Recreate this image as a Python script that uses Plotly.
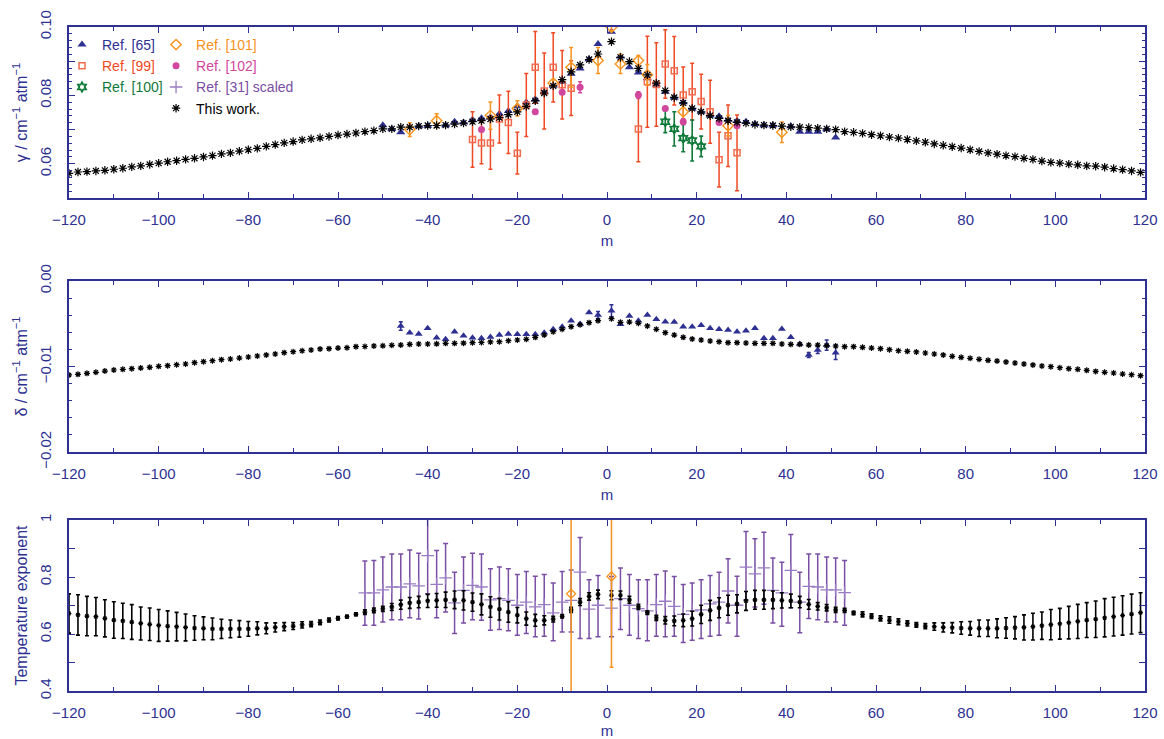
import plotly.graph_objects as go

# ---------------------------------------------------------------- data
# rotational index m: P branch (even, negative) and R branch (odd, positive)
m_p = list(range(-120, 0, 2))
m_r = list(range(1, 121, 2))
m_tw = m_p + m_r

# This work: broadening coefficient gamma / cm-1 atm-1
gamma_tw = [0.0572, 0.0576, 0.0577, 0.0579, 0.0581, 0.0584, 0.0587, 0.0591, 0.0594, 0.0598,
            0.0602, 0.0606, 0.0609, 0.0613, 0.0616, 0.0620, 0.0624, 0.0629, 0.0632, 0.0637,
            0.0641, 0.0645, 0.0651, 0.0656, 0.0661, 0.0665, 0.0670, 0.0673, 0.0676, 0.0680,
            0.0684, 0.0687, 0.0690, 0.0694, 0.0697, 0.0702, 0.0702, 0.0707, 0.0707, 0.0710,
            0.0712, 0.0712, 0.0713, 0.0716, 0.0719, 0.0723, 0.0726, 0.0731, 0.0735, 0.0744,
            0.0752, 0.0768, 0.0784, 0.0807, 0.0828, 0.0846, 0.0869, 0.0889, 0.0905, 0.0921,
            0.0957, 0.0911, 0.0899, 0.0879, 0.0860, 0.0836, 0.0814, 0.0794, 0.0778, 0.0762,
            0.0752, 0.0741, 0.0733, 0.0726, 0.0721, 0.0719, 0.0715, 0.0713, 0.0712, 0.0710,
            0.0708, 0.0707, 0.0706, 0.0704, 0.0702, 0.0700, 0.0694, 0.0692, 0.0689, 0.0685,
            0.0682, 0.0678, 0.0675, 0.0671, 0.0667, 0.0663, 0.0658, 0.0654, 0.0650, 0.0646,
            0.0641, 0.0636, 0.0632, 0.0628, 0.0624, 0.0621, 0.0616, 0.0613, 0.0608, 0.0604,
            0.0602, 0.0599, 0.0597, 0.0594, 0.0593, 0.0590, 0.0586, 0.0583, 0.0579, 0.0575]

# This work: shift coefficient delta / cm-1 atm-1
delta_tw = [-0.01099, -0.01092, -0.01080, -0.01068, -0.01053, -0.01041, -0.01033, -0.01025,
            -0.01018, -0.01010, -0.00998, -0.00990, -0.00979, -0.00971, -0.00955, -0.00943,
            -0.00932, -0.00920, -0.00912, -0.00901, -0.00889, -0.00877, -0.00865, -0.00854,
            -0.00838, -0.00827, -0.00815, -0.00807, -0.00795, -0.00791, -0.00784, -0.00780,
            -0.00768, -0.00766, -0.00760, -0.00758, -0.00752, -0.00749, -0.00741, -0.00737,
            -0.00737, -0.00735, -0.00729, -0.00729, -0.00727, -0.00721, -0.00719, -0.00713,
            -0.00710, -0.00698, -0.00690, -0.00682, -0.00659, -0.00632, -0.00593, -0.00565,
            -0.00534, -0.00511, -0.00487, -0.00464,
            -0.00441, -0.00483, -0.00480, -0.00495, -0.00526, -0.00565, -0.00604, -0.00632,
            -0.00659, -0.00678, -0.00690, -0.00702, -0.00710, -0.00721, -0.00721, -0.00725,
            -0.00729, -0.00729, -0.00729, -0.00737, -0.00741, -0.00741, -0.00749, -0.00749,
            -0.00756, -0.00760, -0.00768, -0.00768, -0.00776, -0.00784, -0.00791, -0.00803,
            -0.00815, -0.00823, -0.00830, -0.00842, -0.00854, -0.00865, -0.00881, -0.00893,
            -0.00904, -0.00916, -0.00928, -0.00936, -0.00947, -0.00959, -0.00971, -0.00982,
            -0.00994, -0.01002, -0.01014, -0.01025, -0.01033, -0.01045, -0.01057, -0.01068,
            -0.01076, -0.01088, -0.01096, -0.01107]

# This work: temperature exponent and its uncertainty
texp_tw = [0.672, 0.667, 0.663, 0.661, 0.655, 0.649, 0.646, 0.642, 0.637, 0.634,
           0.630, 0.628, 0.626, 0.623, 0.621, 0.620, 0.618, 0.618, 0.618, 0.618,
           0.618, 0.620, 0.620, 0.623, 0.626, 0.628, 0.632, 0.635, 0.641, 0.649,
           0.655, 0.661, 0.669, 0.677, 0.683, 0.688, 0.695, 0.703, 0.709, 0.712,
           0.716, 0.718, 0.720, 0.720, 0.718, 0.712, 0.704, 0.695, 0.687, 0.677,
           0.666, 0.654, 0.648, 0.648, 0.652, 0.662, 0.685, 0.712, 0.732, 0.739,
           0.736, 0.736, 0.720, 0.695, 0.675, 0.657, 0.648, 0.646, 0.648, 0.654,
           0.669, 0.683, 0.692, 0.701, 0.706, 0.716, 0.720, 0.720, 0.720, 0.718,
           0.716, 0.712, 0.704, 0.697, 0.692, 0.685, 0.683, 0.674, 0.669, 0.663,
           0.655, 0.649, 0.643, 0.637, 0.632, 0.628, 0.626, 0.623, 0.622, 0.621,
           0.620, 0.620, 0.620, 0.620, 0.621, 0.622, 0.623, 0.626, 0.629, 0.633,
           0.636, 0.640, 0.644, 0.649, 0.652, 0.657, 0.661, 0.665, 0.670, 0.675]
texp_tw_err = [0.069, 0.071, 0.069, 0.067, 0.065, 0.064, 0.062, 0.061, 0.058, 0.057,
               0.056, 0.053, 0.050, 0.047, 0.043, 0.040, 0.038, 0.034, 0.031, 0.029,
               0.026, 0.023, 0.019, 0.016, 0.014, 0.012, 0.011, 0.009, 0.008, 0.007,
               0.006, 0.005, 0.005, 0.008, 0.008, 0.009, 0.012, 0.016, 0.019, 0.020,
               0.023, 0.024, 0.027, 0.031, 0.034, 0.032, 0.037, 0.036, 0.038, 0.036,
               0.027, 0.023, 0.021, 0.016, 0.010, 0.006, 0.009, 0.012, 0.013, 0.015,
               0.016, 0.015, 0.012, 0.009, 0.006, 0.009, 0.013, 0.017, 0.022, 0.026,
               0.032, 0.035, 0.035, 0.035, 0.032, 0.033, 0.033, 0.033, 0.031, 0.027,
               0.024, 0.020, 0.017, 0.013, 0.011, 0.009, 0.007, 0.006, 0.009, 0.008,
               0.009, 0.011, 0.010, 0.009, 0.008, 0.009, 0.013, 0.016, 0.018, 0.022,
               0.024, 0.029, 0.029, 0.033, 0.036, 0.039, 0.044, 0.047, 0.048, 0.053,
               0.054, 0.057, 0.060, 0.061, 0.064, 0.067, 0.068, 0.069, 0.070, 0.070]

# Ref. [65]: gamma and delta
m_65g = [-50, -48, -46, -42, -40, -36, -34, -32, -30, -28, -26, -24, -22, -20, -18, -16,
         -14, -12, -10, -8, -6, -4, -2, 1, 3, 5, 7, 9, 11, 13, 15, 17, 19, 21, 23, 25, 27,
         29, 31, 33, 35, 37, 41, 43, 45, 47, 49, 51]
gamma_65 = [0.0713, 0.0702, 0.0692, 0.0710, 0.0711, 0.0713, 0.0723, 0.0721, 0.0729, 0.0733,
            0.0736, 0.0746, 0.0754, 0.0768, 0.0780, 0.0789, 0.0809, 0.0828, 0.0840, 0.0863,
            0.0879, 0.0906, 0.0950, 0.0986, 0.0914, 0.0882, 0.0867, 0.0850, 0.0832, 0.0811,
            0.0794, 0.0780, 0.0762, 0.0752, 0.0741, 0.0739, 0.0729, 0.0726, 0.0723, 0.0716,
            0.0713, 0.0713, 0.0710, 0.0694, 0.0694, 0.0694, 0.0701, 0.0677]
m_65d = [-46, -44, -42, -40, -38, -36, -34, -32, -30, -28, -26, -24, -22, -20, -18, -16,
         -14, -12, -10, -8, -6, -4, -2, 1, 3, 5, 7, 9, 11, 13, 15, 17, 19, 21, 23, 25, 27,
         29, 31, 33, 35, 37, 39, 41, 43, 45, 47, 49, 51]
delta_65 = [-0.00526, -0.00604, -0.00620, -0.00554, -0.00663, -0.00682, -0.00593, -0.00639,
            -0.00663, -0.00671, -0.00655, -0.00632, -0.00620, -0.00624, -0.00624, -0.00624,
            -0.00604, -0.00565, -0.00534, -0.00464, -0.00503, -0.00370, -0.00398, -0.00347,
            -0.00507, -0.00409, -0.00464, -0.00398, -0.00448, -0.00476, -0.00480, -0.00534,
            -0.00534, -0.00518, -0.00554, -0.00565, -0.00573, -0.00593, -0.00581, -0.00554,
            -0.00671, -0.00671, -0.00561, -0.00659, -0.00737, -0.00865, -0.00807, -0.00749,
            -0.00838]
delta_65_err = [0.0005, 0, 0, 0, 0, 0, 0, 0, 0, 0, 0, 0, 0, 0, 0, 0,
                0, 0, 0, 0, 0, 0, 0.0004, 0.0007, 0, 0, 0, 0, 0, 0, 0, 0,
                0, 0, 0, 0, 0, 0, 0, 0, 0, 0, 0, 0, 0, 0.0003, 0.0004, 0.0006, 0.0008]

# Ref. [99]: gamma with uncertainty
m_99 = [-30, -28, -26, -24, -22, -20, -18, -16, -14, -12, -10, -8,
        7, 9, 11, 13, 15, 17, 19, 21, 23, 25, 27, 29]
gamma_99 = [0.0671, 0.0661, 0.0661, 0.0731, 0.0721, 0.0631, 0.0772, 0.0882, 0.0813, 0.0882,
            0.0831, 0.0821, 0.0702, 0.0840, 0.0832, 0.0892, 0.0872, 0.0801, 0.0811, 0.0782,
            0.0752, 0.0612, 0.0682, 0.0632]
gamma_99_err = [0.0081, 0.0061, 0.0077, 0.0070, 0.0091, 0.0061, 0.0092, 0.0105, 0.0111, 0.0101,
                0.0100, 0.0080, 0.0096, 0.0133, 0.0122, 0.0100, 0.0100, 0.0082, 0.0083, 0.0080,
                0.0092, 0.0080, 0.0090, 0.0111]

# Ref. [100]
m_100 = [13, 15, 17, 19, 21]
gamma_100 = [0.0723, 0.0702, 0.0675, 0.0668, 0.0651]
gamma_100_err = [0.0032, 0.0050, 0.0040, 0.0060, 0.0030]

# Ref. [101]: gamma, plus two temperature exponents
m_101 = [-44, -38, -26, -20, -12, -8, -2, 1, 3, 7, 9, 17, 27, 39]
gamma_101 = [0.0700, 0.0726, 0.0741, 0.0762, 0.0836, 0.0882, 0.0902, 0.0999, 0.0892, 0.0902,
             0.0860, 0.0752, 0.0711, 0.0692]
gamma_101_err = [0.0020, 0.0020, 0.0040, 0.0022, 0.0010, 0.0058, 0.0038, 0.0010, 0.0028, 0.0015,
                 0.0030, 0.0020, 0.0030, 0.0030]
m_101t = [-8, 1]
texp_101 = [0.741, 0.802]
texp_101_err = [0.400, 0.319]

# Ref. [102]
m_102 = [-28, -16, -10, -6, 7, 13, 17, 25, 29]
gamma_102 = [0.0700, 0.0752, 0.0809, 0.0824, 0.0801, 0.0762, 0.0723, 0.0721, 0.0711]
gamma_102_err = [0, 0, 0, 0.0016, 0.0010, 0, 0.0008, 0, 0]

# Ref. [31] scaled: temperature exponent with upper / lower bounds
m_31 = [-54, -52, -50, -48, -46, -44, -42, -40, -38, -36, -34, -32, -30, -28, -26, -24,
        -22, -20, -18, -16, -14, -12, -10, -8, -6, -4, -2, 1, 3, 5, 7, 9, 11, 13, 15, 17,
        19, 21, 23, 25, 27, 29, 31, 33, 35, 37, 39, 41, 43, 45, 47, 49, 51, 53]
texp_31 = [0.744, 0.744, 0.755, 0.765, 0.765, 0.776, 0.769, 0.875, 0.774, 0.797, 0.709, 0.753,
           0.771, 0.765, 0.720, 0.724, 0.718, 0.701, 0.712, 0.695, 0.703, 0.674, 0.712, 0.718,
           0.817, 0.687, 0.701, 0.691, 0.724, 0.701, 0.689, 0.681, 0.703, 0.715, 0.697, 0.669,
           0.681, 0.685, 0.706, 0.712, 0.751, 0.701, 0.835, 0.811, 0.832, 0.753, 0.744, 0.823,
           0.712, 0.767, 0.765, 0.755, 0.755, 0.745]
texp_31_hi = [0.856, 0.858, 0.870, 0.881, 0.881, 0.895, 0.883, 1.010, 0.893, 0.918, 0.817, 0.870,
              0.883, 0.881, 0.829, 0.835, 0.829, 0.809, 0.819, 0.803, 0.809, 0.779, 0.819, 0.825,
              0.939, 0.790, 0.805, 0.802, 0.832, 0.809, 0.790, 0.790, 0.809, 0.821, 0.802, 0.774,
              0.779, 0.790, 0.805, 0.817, 0.864, 0.803, 0.960, 0.934, 0.957, 0.867, 0.852, 0.949,
              0.817, 0.881, 0.881, 0.870, 0.867, 0.858]
texp_31_lo = [0.631, 0.631, 0.642, 0.650, 0.650, 0.657, 0.653, 0.741, 0.657, 0.677, 0.602, 0.639,
              0.650, 0.648, 0.613, 0.616, 0.611, 0.596, 0.602, 0.590, 0.592, 0.576, 0.607, 0.607,
              0.584, 0.584, 0.590, 0.590, 0.616, 0.596, 0.584, 0.576, 0.592, 0.590, 0.592, 0.570,
              0.578, 0.584, 0.592, 0.596, 0.639, 0.592, 0.720, 0.695, 0.704, 0.639, 0.627, 0.692,
              0.604, 0.654, 0.650, 0.642, 0.642, 0.631]

# ---------------------------------------------------------------- style
NAVY = '#2e3192'
C65 = '#2e3192'
C99 = '#ef4a23'
C100 = '#0f7a3a'
C101 = '#f7931e'
C102 = '#d1479d'
C31 = '#7a4ea3'
CTW = '#000000'
FONT = 'Liberation Sans'


def label(text, color):
    return f'<span style="color:{color}">{text}</span>'


def ebar(vals, color, width=2, thickness=1.5, minus=None):
    d = dict(type='data', array=vals, visible=True, color=color,
             thickness=thickness, width=width)
    if minus is not None:
        d['arrayminus'] = minus
        d['symmetric'] = False
    return d


fig = go.Figure()

# ---- panel 1: gamma
fig.add_trace(go.Scatter(
    x=m_65g, y=gamma_65, mode='markers', name=label('Ref. [65]', C65),
    marker=dict(symbol='triangle-up', size=8, color=C65),
    xaxis='x', yaxis='y', legend='legend'))
fig.add_trace(go.Scatter(
    x=m_99, y=gamma_99, mode='markers', name=label('Ref. [99]', C99),
    marker=dict(symbol='square-open', size=6, color='#f26c4f', line=dict(width=1.5)),
    error_y=ebar(gamma_99_err, C99, width=2, thickness=1.5),
    xaxis='x', yaxis='y', legend='legend'))
fig.add_trace(go.Scatter(
    x=m_100, y=gamma_100, mode='markers', name=label('Ref. [100]', C100),
    marker=dict(symbol='hexagram-open', size=7, color=C100, line=dict(width=1.8)),
    error_y=ebar(gamma_100_err, C100, width=2, thickness=1.6),
    xaxis='x', yaxis='y', legend='legend'))
fig.add_trace(go.Scatter(
    x=m_101, y=gamma_101, mode='markers', name=label('Ref. [101]', C101),
    marker=dict(symbol='diamond-open', size=8, color=C101, line=dict(width=1.4)),
    error_y=ebar(gamma_101_err, C101, width=2, thickness=1.5),
    xaxis='x', yaxis='y', legend='legend2'))
fig.add_trace(go.Scatter(
    x=m_102, y=gamma_102, mode='markers', name=label('Ref. [102]', C102),
    marker=dict(symbol='circle', size=7, color=C102),
    error_y=ebar(gamma_102_err, C102, width=2, thickness=1.5),
    xaxis='x', yaxis='y', legend='legend2'))

# ---- panel 3: temperature exponent (Ref. [31] carries the legend entry)
fig.add_trace(go.Scatter(
    x=m_31, y=texp_31, mode='markers', name=label('Ref. [31] scaled', C31),
    marker=dict(symbol='cross-thin', size=9, color='#9a7cc4', line=dict(width=1.3, color='#9a7cc4')),
    error_y=ebar([h - c for h, c in zip(texp_31_hi, texp_31)], C31, width=2.5, thickness=1.5,
                 minus=[c - l for c, l in zip(texp_31, texp_31_lo)]),
    xaxis='x3', yaxis='y3', legend='legend2'))

fig.add_trace(go.Scatter(
    x=m_tw, y=gamma_tw, mode='markers', name=label('This work.', CTW),
    marker=dict(symbol='asterisk-open', size=7, color=CTW, line=dict(width=1.2, color=CTW)),
    xaxis='x', yaxis='y', legend='legend2'))

# ---- panel 2: delta
fig.add_trace(go.Scatter(
    x=m_65d, y=delta_65, mode='markers', showlegend=False,
    marker=dict(symbol='triangle-up', size=7, color=C65),
    error_y=ebar(delta_65_err, C65, width=2, thickness=1.5),
    xaxis='x2', yaxis='y2'))
fig.add_trace(go.Scatter(
    x=m_tw, y=delta_tw, mode='markers', showlegend=False,
    marker=dict(symbol='asterisk-open', size=5, color=CTW, line=dict(width=1.2, color=CTW)),
    xaxis='x2', yaxis='y2'))

# ---- panel 3: remaining series
fig.add_trace(go.Scatter(
    x=m_tw, y=texp_tw, mode='markers', showlegend=False,
    marker=dict(symbol='asterisk-open', size=4, color=CTW, line=dict(width=1.2, color=CTW)),
    error_y=ebar(texp_tw_err, CTW, width=2, thickness=1.6),
    xaxis='x3', yaxis='y3'))
fig.add_trace(go.Scatter(
    x=m_101t, y=texp_101, mode='markers', showlegend=False,
    marker=dict(symbol='diamond-open', size=7, color=C101, line=dict(width=1.3)),
    error_y=ebar(texp_101_err, C101, width=2, thickness=1.5),
    xaxis='x3', yaxis='y3'))

# ---------------------------------------------------------------- axes
tickfont = dict(family=FONT, size=15, color=NAVY)
titlefont = dict(family=FONT, size=16, color=NAVY)
common = dict(showline=True, linecolor=NAVY, linewidth=1.6, mirror='ticks',
              ticks='inside', ticklen=6, tickwidth=1.4, tickcolor=NAVY,
              tickfont=tickfont, showgrid=False, zeroline=False)


def xax(anchor):
    return dict(common, range=[-120, 120], tickmode='linear', tick0=0, dtick=20,
                anchor=anchor, domain=[0, 1], ticklabelstandoff=7,
                minor=dict(tickmode='linear', tick0=0, dtick=10, ticks='inside', ticklen=4,
                           tickwidth=1.2, tickcolor=NAVY, showgrid=False),
                title=dict(text='m', font=dict(family=FONT, size=15, color=NAVY), standoff=9),
                automargin=False)


def yax(anchor, dom, rng, vals, texts, minor_dtick, title):
    d = dict(common, range=rng, tickmode='array', tickvals=vals, ticktext=texts,
             tickangle=-90, anchor=anchor, domain=dom, ticklabelstandoff=10,
             title=dict(text=title, font=titlefont, standoff=6),
             automargin=False)
    if minor_dtick:
        d['minor'] = dict(tickmode='linear', tick0=0, dtick=minor_dtick, ticks='inside',
                          ticklen=3, tickwidth=1.1, tickcolor=NAVY, showgrid=False)
    return d


fig.update_layout(
    width=1164, height=739,
    margin=dict(l=69, r=19, t=27, b=48),
    paper_bgcolor='white', plot_bgcolor='white',
    font=dict(family=FONT, size=14, color=NAVY),
    xaxis=xax('y'), xaxis2=xax('y2'), xaxis3=xax('y3'),
    yaxis=yax('x', [0.7425, 1.0], [0.05, 0.10],
              [0.05, 0.06, 0.07, 0.08, 0.09, 0.10], ['', '0.06', '', '0.08', '', '0.10'],
              0.002, 'γ / cm<sup>−1</sup> atm<sup>−1</sup>'),
    yaxis2=yax('x2', [0.3599, 0.6175], [-0.02, 0.0],
               [-0.02, -0.01, 0.0], ['−0.02', '−0.01', '0.00'],
               0.002, 'δ / cm<sup>−1</sup> atm<sup>−1</sup>'),
    yaxis3=yax('x3', [0.0, 0.2575], [0.4, 1.0],
               [0.4, 0.5, 0.6, 0.7, 0.8, 0.9, 1.0], ['0.4', '', '0.6', '', '0.8', '', '1'],
               None, 'Temperature exponent'),
    legend=dict(x=-0.0065, y=0.997, xanchor='left', yanchor='top',
                bgcolor='rgba(0,0,0,0)', borderwidth=0, tracegroupgap=0,
                font=dict(family=FONT, size=14)),
    legend2=dict(x=0.0809, y=0.997, xanchor='left', yanchor='top',
                 bgcolor='rgba(0,0,0,0)', borderwidth=0, tracegroupgap=0,
                 font=dict(family=FONT, size=14)),
)

fig.write_html('out.html')
